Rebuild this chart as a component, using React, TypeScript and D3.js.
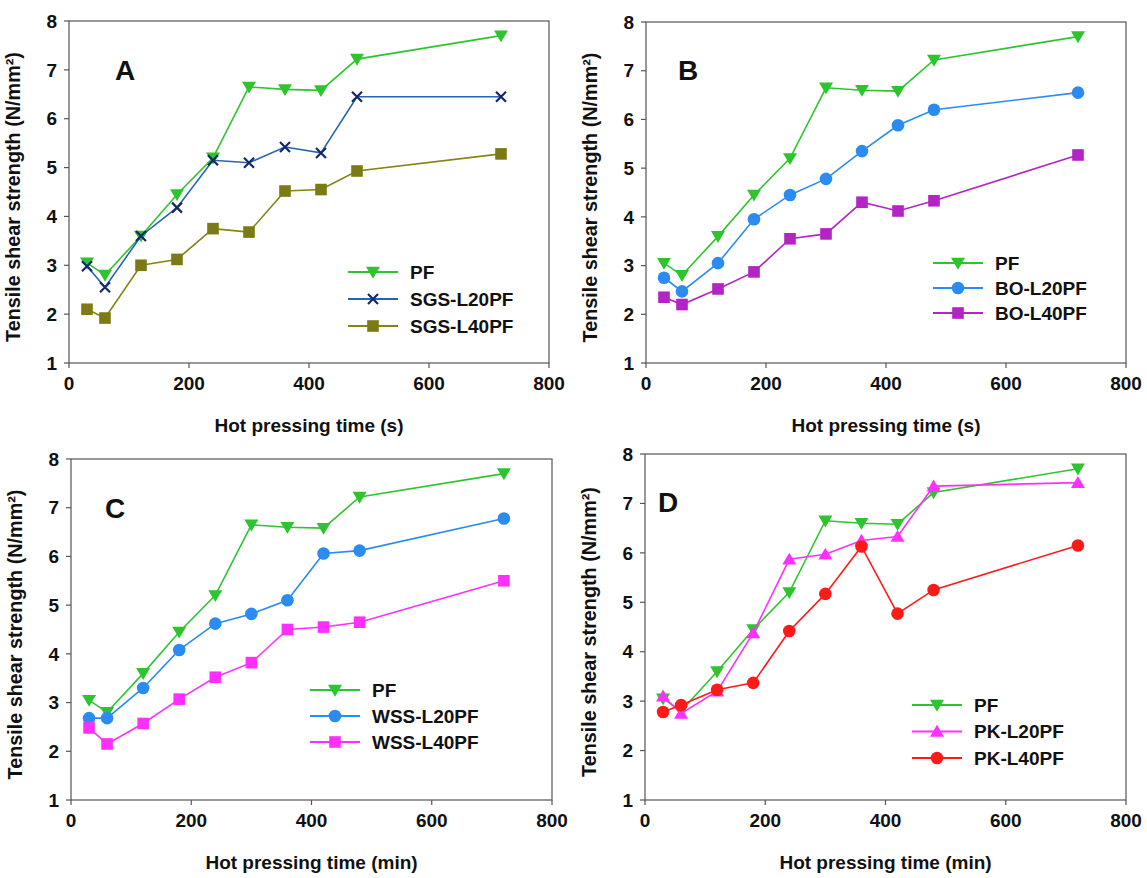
import React from "react";
import * as d3 from "d3";

const times = [30, 60, 120, 180, 240, 300, 360, 420, 480, 720];
const xTicks = [0, 200, 400, 600, 800];
const yTicks = [1, 2, 3, 4, 5, 6, 7, 8];

const pf = [3.05, 2.8, 3.6, 4.45, 5.2, 6.65, 6.6, 6.58, 7.22, 7.7];
const sgsL20 = [2.98, 2.55, 3.6, 4.18, 5.15, 5.1, 5.42, 5.3, 6.45, 6.45];
const sgsL40 = [2.1, 1.92, 3.0, 3.12, 3.75, 3.68, 4.52, 4.55, 4.93, 5.28];
const boL20 = [2.75, 2.47, 3.05, 3.95, 4.45, 4.78, 5.35, 5.88, 6.2, 6.55];
const boL40 = [2.35, 2.2, 2.52, 2.87, 3.55, 3.65, 4.3, 4.12, 4.33, 5.27];
const wssL20 = [2.68, 2.68, 3.3, 4.08, 4.62, 4.82, 5.1, 6.06, 6.12, 6.78];
const wssL40 = [2.48, 2.15, 2.57, 3.07, 3.52, 3.82, 4.5, 4.55, 4.65, 5.5];
const pkL20 = [3.1, 2.75, 3.2, 4.38, 5.87, 5.97, 6.25, 6.33, 7.35, 7.42];
const pkL40 = [2.78, 2.92, 3.23, 3.37, 4.42, 5.17, 6.13, 4.77, 5.25, 6.15];

const yTitle = "Tensile shear strength (N/mm²)";

type Series = { name: string; values: number[]; line: string; fill: string; marker: string };

const GREEN = "#2ec42e";
const pfSeries: Series = { name: "PF", values: pf, line: GREEN, fill: GREEN, marker: "tdown" };

const panels = [
  {
    letter: "A",
    left: 69, right: 549, top: 21, bottom: 363,
    xTitle: "Hot pressing time (s)",
    letterPos: [125, 80],
    legend: { x: 348, y: 272, dy: 27 },
    series: [
      pfSeries,
      { name: "SGS-L20PF", values: sgsL20, line: "#2464b4", fill: "#14286a", marker: "x" },
      { name: "SGS-L40PF", values: sgsL40, line: "#848412", fill: "#7c7a12", marker: "square" },
    ] as Series[],
  },
  {
    letter: "B",
    left: 646, right: 1126, top: 22, bottom: 363,
    xTitle: "Hot pressing time (s)",
    letterPos: [688, 80],
    legend: { x: 933, y: 263, dy: 25 },
    series: [
      pfSeries,
      { name: "BO-L20PF", values: boL20, line: "#2a8cf0", fill: "#2a8cf0", marker: "circle" },
      { name: "BO-L40PF", values: boL40, line: "#b424c4", fill: "#b424c4", marker: "square" },
    ] as Series[],
  },
  {
    letter: "C",
    left: 71, right: 552, top: 459, bottom: 800,
    xTitle: "Hot pressing time (min)",
    letterPos: [115, 518],
    legend: { x: 310, y: 690, dy: 26 },
    series: [
      pfSeries,
      { name: "WSS-L20PF", values: wssL20, line: "#2a8cf0", fill: "#2a8cf0", marker: "circle" },
      { name: "WSS-L40PF", values: wssL40, line: "#ff30ff", fill: "#ff30ff", marker: "square" },
    ] as Series[],
  },
  {
    letter: "D",
    left: 645, right: 1126, top: 454, bottom: 800,
    xTitle: "Hot pressing time (min)",
    letterPos: [668, 512],
    legend: { x: 912, y: 705, dy: 26.5 },
    series: [
      pfSeries,
      { name: "PK-L20PF", values: pkL20, line: "#ff30ff", fill: "#ff30ff", marker: "tup" },
      { name: "PK-L40PF", values: pkL40, line: "#ff1a1a", fill: "#ff1a1a", marker: "circle" },
    ] as Series[],
  },
];

const FONT = "'Liberation Sans', Arial, sans-serif";
const AXIS = "#555";
const FS = 19;

function Marker({ type, x, y, fill }: { type: string; x: number; y: number; fill: string }) {
  if (type === "tdown") {
    const s = 7;
    return <path d={`M${x - s},${y - s * 0.75}L${x + s},${y - s * 0.75}L${x},${y + s * 0.95}Z`} fill={fill} />;
  }
  if (type === "tup") {
    const s = 7;
    return <path d={`M${x - s},${y + s * 0.75}L${x + s},${y + s * 0.75}L${x},${y - s * 0.95}Z`} fill={fill} />;
  }
  if (type === "square") {
    const s = 5.8;
    return <rect x={x - s} y={y - s} width={2 * s} height={2 * s} fill={fill} />;
  }
  if (type === "circle") {
    return <circle cx={x} cy={y} r={6.3} fill={fill} />;
  }
  const s = 5;
  return (
    <path d={`M${x - s},${y - s}L${x + s},${y + s}M${x - s},${y + s}L${x + s},${y - s}`} stroke={fill} strokeWidth={2.2} fill="none" />
  );
}

function Panel({ p }: { p: (typeof panels)[number] }) {
  const x = d3.scaleLinear().domain([0, 800]).range([p.left, p.right]);
  const y = d3.scaleLinear().domain([1, 8]).range([p.bottom, p.top]);
  const line = d3
    .line<number>()
    .x((_, i) => x(times[i]))
    .y((v) => y(v));
  const midX = (p.left + p.right) / 2;
  const midY = (p.top + p.bottom) / 2;
  return (
    <g fontFamily={FONT} fontWeight="bold">
      <rect x={p.left} y={p.top} width={p.right - p.left} height={p.bottom - p.top} fill="none" stroke={AXIS} strokeWidth={1.2} />
      {yTicks.map((t) => (
        <g key={"y" + t}>
          <line x1={p.left - 5} x2={p.left} y1={y(t)} y2={y(t)} stroke={AXIS} strokeWidth={1.2} />
          <text x={p.left - 12} y={y(t)} dy="0.35em" textAnchor="end" fontSize={FS} fill="#111">
            {t}
          </text>
        </g>
      ))}
      {xTicks.map((t) => (
        <g key={"x" + t}>
          <line x1={x(t)} x2={x(t)} y1={p.bottom} y2={p.bottom + 5} stroke={AXIS} strokeWidth={1.2} />
          <text x={x(t)} y={p.bottom + 27} textAnchor="middle" fontSize={FS} fill="#111">
            {t}
          </text>
        </g>
      ))}
      <text x={midX} y={p.bottom + 69} textAnchor="middle" fontSize={FS} fill="#111">
        {p.xTitle}
      </text>
      <text
        transform={`translate(${p.left - 49},${midY + 5}) rotate(-90)`}
        textAnchor="middle"
        fontSize={19.8}
        fill="#111"
      >
        {yTitle}
      </text>
      <text x={p.letterPos[0]} y={p.letterPos[1]} textAnchor="middle" fontSize={28} fill="#111">
        {p.letter}
      </text>
      {p.series.map((s) => (
        <g key={s.name}>
          <path d={line(s.values) || ""} fill="none" stroke={s.line} strokeWidth={1.6} />
          {s.values.map((v, i) => (
            <Marker key={i} type={s.marker} x={x(times[i])} y={y(v)} fill={s.fill} />
          ))}
        </g>
      ))}
      {p.series.map((s, i) => {
        const ly = p.legend.y + i * p.legend.dy;
        return (
          <g key={"leg" + s.name}>
            <line x1={p.legend.x} x2={p.legend.x + 50} y1={ly} y2={ly} stroke={s.line} strokeWidth={1.8} />
            <Marker type={s.marker} x={p.legend.x + 25} y={ly} fill={s.fill} />
            <text x={p.legend.x + 62} y={ly} dy="0.36em" fontSize={FS} fill="#111">
              {s.name}
            </text>
          </g>
        );
      })}
    </g>
  );
}

export default function App() {
  return (
    <svg
      width={1147}
      height={878}
      style={{ position: "absolute", left: 0, top: 0, background: "#fff" }}
    >
      <rect width={1147} height={878} fill="#fff" />
      {panels.map((p) => (
        <Panel key={p.letter} p={p} />
      ))}
    </svg>
  );
}
